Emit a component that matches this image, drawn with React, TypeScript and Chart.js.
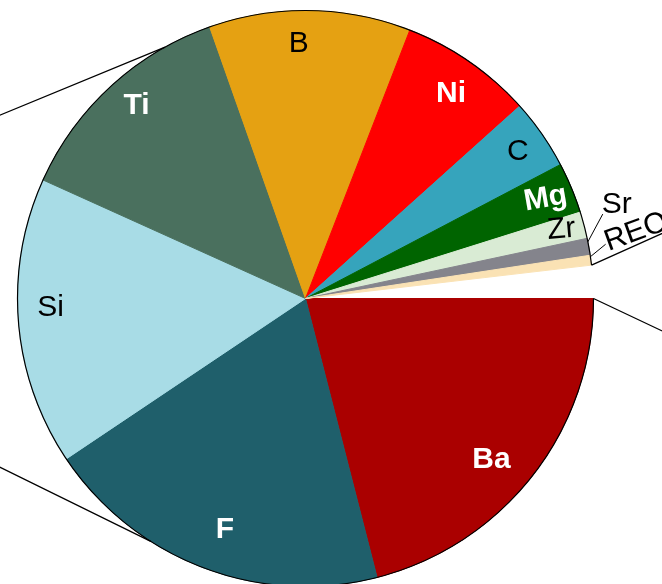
import React, { useEffect, useRef } from "react";
import { Chart, registerables } from "chart.js";

Chart.register(...registerables);

// ---- data ----
const categories = ["Ba", "F", "Si", "Ti", "B", "Ni", "C", "Mg", "Zr", "Sr", "REO", "Other"];
const shares = [21.0, 19.6, 16.15, 12.85, 11.3, 7.45, 3.95, 2.85, 1.5, 0.95, 0.55, 1.85];
const sliceColors = [
  "#AA0000", "#1F5F6B", "#A8DCE6", "#4A705E", "#E5A112", "#FF0000",
  "#36A4BC", "#006400", "#D9EBD4", "#84848C", "#FAE2B4", "rgba(0,0,0,0)",
];
const labelColors = ["#fff", "#fff", "#000", "#fff", "#000", "#fff", "#000", "#fff", "#000", "#000", "#000", ""];
const labelBold = [true, true, false, true, false, true, false, true, false, false, false, false];

// ---- label layout (radius px from centre, angle shift deg, text rotation deg) ----
type Inside = { kind: "in"; r: number; shift: number; rot: number };
type Outside = {
  kind: "out"; startShift: number; endShift: number; endR: number;
  dx: number; dy: number; rot: number; baseline: CanvasTextBaseline;
};
type Hidden = { kind: "none" };
const labelLayout: (Inside | Outside | Hidden)[] = [
  { kind: "in", r: 246, shift: 3.1, rot: 0 },
  { kind: "in", r: 245, shift: -1.7, rot: 0 },
  { kind: "in", r: 255, shift: 2.8, rot: 0 },
  { kind: "in", r: 256, shift: 1.3, rot: 0 },
  { kind: "in", r: 255, shift: -2.4, rot: 0 },
  { kind: "in", r: 251, shift: 0.8, rot: 0 },
  { kind: "in", r: 258, shift: 0.2, rot: 0 },
  { kind: "in", r: 260, shift: 0, rot: -10 },
  { kind: "in", r: 265, shift: -0.3, rot: -5 },
  { kind: "out", startShift: -1.0, endShift: -5.5, endR: 309, dx: -1, dy: -1.5, rot: 0, baseline: "alphabetic" },
  { kind: "out", startShift: -0.7, endShift: -2.6, endR: 305, dx: 0, dy: -1, rot: -20, baseline: "middle" },
  { kind: "none" },
];

// connector line directions (deg) and start angles on the rim (deg)
const rightLowerDir = 25.3;
const rightUpperDir = -24.2;
const leftTopStart = 240.8;
const leftTopDir = 157.6;
const leftBottomStart = 122.5;
const leftBottomDir = 206.2;

const DEG = Math.PI / 180;
const FONT = '"Liberation Sans", Arial, Helvetica, sans-serif';

const decorPlugin = {
  id: "pieDecor",
  afterDatasetsDraw(chart: any) {
    const ctx: CanvasRenderingContext2D = chart.ctx;
    const arcs = chart.getDatasetMeta(0).data as any[];
    const first = arcs[0];
    const lastVis = arcs[arcs.length - 2];
    const cx = first.x;
    const cy = first.y;
    const R = first.outerRadius;
    const pt = (a: number, r: number) => [cx + r * Math.cos(a), cy + r * Math.sin(a)];

    ctx.save();
    // outer outline
    ctx.beginPath();
    ctx.arc(cx, cy, R, first.startAngle, lastVis.endAngle);
    ctx.strokeStyle = "#000";
    ctx.lineWidth = 1.2;
    ctx.stroke();

    // connector lines
    const ray = (a: number, dirDeg: number, len: number) => {
      const [x, y] = pt(a, R);
      ctx.moveTo(x, y);
      ctx.lineTo(x + len * Math.cos(dirDeg * DEG), y + len * Math.sin(dirDeg * DEG));
    };
    ctx.beginPath();
    ray(first.startAngle, rightLowerDir, 300);
    ray(lastVis.endAngle, rightUpperDir, 300);
    ray(leftTopStart * DEG, leftTopDir, 500);
    ray(leftBottomStart * DEG, leftBottomDir, 500);
    ctx.lineWidth = 1.3;
    ctx.stroke();

    // labels
    arcs.forEach((arc, i) => {
      const lay = labelLayout[i];
      if (!lay || lay.kind === "none") return;
      const mid = (arc.startAngle + arc.endAngle) / 2;
      ctx.font = `${labelBold[i] ? "bold " : ""}30px ${FONT}`;
      ctx.fillStyle = labelColors[i];
      if (lay.kind === "in") {
        const [x, y] = pt(mid + lay.shift * DEG, lay.r);
        ctx.save();
        ctx.translate(x, y);
        ctx.rotate(lay.rot * DEG);
        ctx.textAlign = "center";
        ctx.textBaseline = "middle";
        ctx.fillText(categories[i], 0, 0);
        ctx.restore();
      } else {
        const [sx, sy] = pt(mid + lay.startShift * DEG, R);
        const [ex, ey] = pt(mid + lay.endShift * DEG, lay.endR);
        ctx.beginPath();
        ctx.moveTo(sx, sy);
        ctx.lineTo(ex, ey);
        ctx.lineWidth = 1;
        ctx.strokeStyle = "#000";
        ctx.stroke();
        ctx.save();
        ctx.translate(ex + lay.dx, ey + lay.dy);
        ctx.rotate(lay.rot * DEG);
        ctx.textAlign = "left";
        ctx.textBaseline = lay.baseline;
        ctx.fillText(categories[i], 0, 0);
        ctx.restore();
      }
    });
    ctx.restore();
  },
};

export default function App() {
  const ref = useRef<HTMLCanvasElement>(null);
  useEffect(() => {
    const chart = new Chart(ref.current!, {
      type: "pie",
      data: {
        labels: categories,
        datasets: [
          {
            data: shares,
            backgroundColor: sliceColors,
            borderColor: sliceColors,
            borderWidth: 1,
          },
        ],
      },
      options: {
        responsive: false,
        animation: false,
        rotation: 90,
        events: [],
        layout: { padding: { left: 17, right: 68, top: 10, bottom: 13 } },
        plugins: {
          legend: { display: false },
          tooltip: { enabled: false },
        },
      },
      plugins: [decorPlugin],
    } as any);
    return () => chart.destroy();
  }, []);
  return (
    <div
      style={{
        position: "fixed",
        left: 0,
        top: 0,
        width: 662,
        height: 584,
        overflow: "hidden",
        background: "#fff",
      }}
    >
      <canvas ref={ref} width={662} height={600} style={{ display: "block", width: 662, height: 600 }} />
    </div>
  );
}
